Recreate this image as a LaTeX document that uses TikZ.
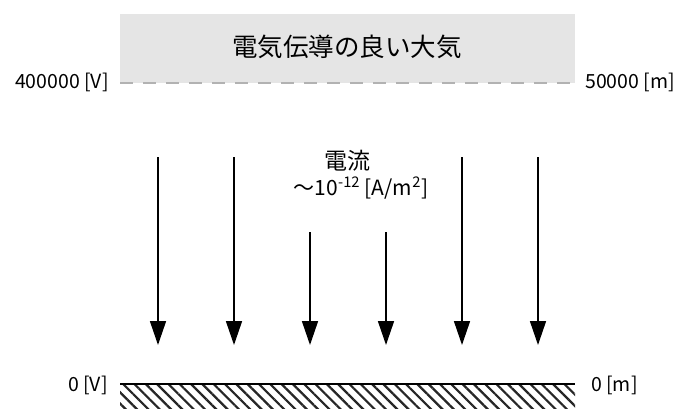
\documentclass[tikz,border=0pt]{standalone}
\usepackage{fontspec}
\setmainfont{Noto Sans CJK JP}
\usetikzlibrary{arrows.meta,patterns.meta}

\begin{document}
\begin{tikzpicture}[x=1pt,y=-1pt,
  lab/.style = {inner sep = 0pt, font = \fontsize{19.5}{24}\selectfont},
  flow/.style = {line width = 1.6pt, -{Triangle[length=24pt,width=16pt]}},
  pt/.style = {inner sep = 0pt, outer sep = 0pt}]
\useasboundingbox (0,0) rectangle (677,408);
% upper atmosphere
\fill[gray!20] (120,14) rectangle (575,83);
\node (Air) at (347,47) [font=\fontsize{25.5}{30}\selectfont] {電気伝導の良い大気};
\coordinate (U1) at (120,83);
\coordinate (U2) at (575,83);
\draw[gray!60,line width=1.3pt,dash pattern=on 13pt off 10pt] (U1)--(U2);
\node (Vtop) at (109,82)[lab,anchor=east] {400000 [V]};
\node (Htop) at (585,82)[lab,anchor=west] {50000 [m]};
% current
\node (I) at (347,161)[font=\fontsize{23}{26}\selectfont] {電流};
\node (J) at (361,188)[font=\fontsize{21}{24}\selectfont] {～10\textsuperscript{-12} [A/m\textsuperscript{2}]};
\coordinate (T1) at (158,157);
\coordinate (T2) at (234,157);
\coordinate (T3) at (310,232);
\coordinate (T4) at (386,232);
\coordinate (T5) at (462,157);
\coordinate (T6) at (538,157);
\coordinate (B1) at (158,345);
\coordinate (B2) at (234,345);
\coordinate (B3) at (310,345);
\coordinate (B4) at (386,345);
\coordinate (B5) at (462,345);
\coordinate (B6) at (538,345);
\draw[flow] (T1)--(B1);
\draw[flow] (T2)--(B2);
\draw[flow] (T3)--(B3);
\draw[flow] (T4)--(B4);
\draw[flow] (T5)--(B5);
\draw[flow] (T6)--(B6);
% ground
\fill[pattern={Lines[angle=-45,distance=8pt,line width=2.2pt]},pattern color=black!85] (120,385) rectangle (575,408);
\coordinate (G1) at (120,384);
\coordinate (G2) at (575,384);
\draw[line width=1.6pt] (G1)--(G2);
\node (Vbot) at (108,385)[lab,anchor=east] {0 [V]};
\node (Hbot) at (591,385)[lab,anchor=west] {0 [m]};
\end{tikzpicture}
\end{document}
